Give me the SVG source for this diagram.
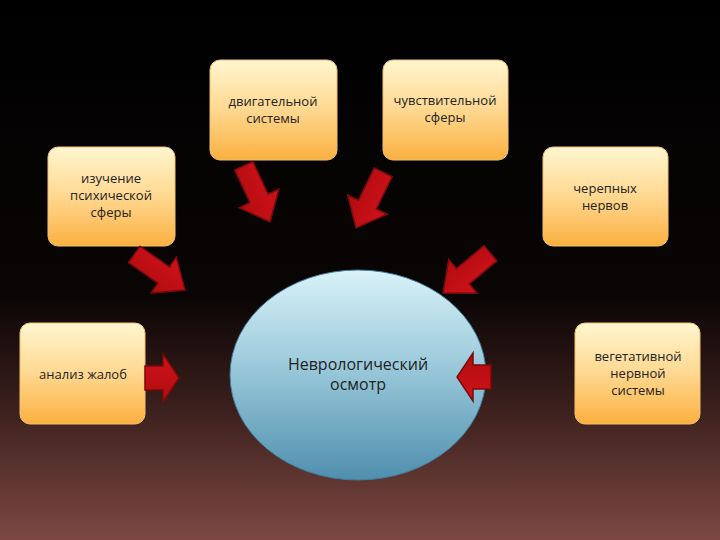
<svg xmlns="http://www.w3.org/2000/svg" width="720" height="540" viewBox="0 0 720 540">
<defs>
<linearGradient id="bg" x1="0" y1="0" x2="0" y2="1">
<stop offset="0" stop-color="#000"/><stop offset="0.55" stop-color="#0a0505"/><stop offset="0.75" stop-color="#3a1f1c"/><stop offset="1" stop-color="#7d4843"/></linearGradient>
<linearGradient id="box" x1="0" y1="0" x2="0" y2="1">
<stop offset="0" stop-color="#fff6d0"/><stop offset="0.5" stop-color="#ffd890"/><stop offset="1" stop-color="#fbb040"/></linearGradient>
<linearGradient id="ell" x1="0" y1="0" x2="0" y2="1">
<stop offset="0" stop-color="#d9f2f8"/><stop offset="0.45" stop-color="#9ccadb"/><stop offset="1" stop-color="#4f8fae"/></linearGradient>
<linearGradient id="arr" x1="0" y1="0" x2="0" y2="1">
<stop offset="0" stop-color="#d0121a"/><stop offset="1" stop-color="#b00c10"/></linearGradient>
<path id="a" d="M-62,-10 L-26,-10 L-26,-22 L0,0 L-26,22 L-26,10 L-62,10 Z" fill="url(#arr)" stroke="#7a0a0a" stroke-width="1.5"/>
<path id="s" d="M-34,-12 L-16,-12 L-16,-24 L0,0 L-16,24 L-16,12 L-34,12 Z" fill="url(#arr)" stroke="#7a0a0a" stroke-width="1.5"/>
</defs>
<style>
.b{fill:url(#box);stroke:#f3c070;stroke-width:1}
.t{font-family:"Open Sans","DejaVu Sans",sans-serif;font-size:13px;fill:#222;text-anchor:middle}
.m{font-family:"Open Sans","DejaVu Sans",sans-serif;font-size:16px;fill:#222;text-anchor:middle}
</style>
<rect width="720" height="540" fill="url(#bg)"/>
<g id="n1"><rect class="b" x="210" y="60" width="127" height="100" rx="10"/><text class="t" x="273" y="106">двигательной</text><text class="t" x="273" y="123">системы</text></g>
<g id="n2"><rect class="b" x="383" y="60" width="125" height="100" rx="10"/><text class="t" x="445" y="105" font-size="11">чувствительной</text><text class="t" x="445" y="122" font-size="11">сферы</text></g>
<g id="n3"><rect class="b" x="48" y="147" width="127" height="99" rx="10"/><text class="t" x="111" y="183">изучение</text><text class="t" x="111" y="200">психической</text><text class="t" x="111" y="217">сферы</text></g>
<g id="n4"><rect class="b" x="543" y="147" width="125" height="99" rx="10"/><text class="t" x="605" y="193">черепных</text><text class="t" x="605" y="210">нервов</text></g>
<g id="n5"><rect class="b" x="20" y="323" width="125" height="101" rx="10"/><text class="t" x="83" y="379">анализ жалоб</text></g>
<g id="n6"><rect class="b" x="575" y="323" width="125" height="101" rx="10"/><text class="t" x="638" y="361">вегетативной</text><text class="t" x="638" y="378">нервной</text><text class="t" x="638" y="395">системы</text></g>
<g id="center"><ellipse cx="358" cy="375" rx="128" ry="105" fill="url(#ell)" stroke="#3f7f9f" stroke-width="1"/><text class="m" x="358" y="370">Неврологический</text><text class="m" x="358" y="390">осмотр</text></g>
<g id="connectors">
<use href="#a" transform="translate(270,222) rotate(65)"/>
<use href="#a" transform="translate(356,228) rotate(116)"/>
<use href="#a" transform="translate(185,290) rotate(35)"/>
<use href="#a" transform="translate(443,293) rotate(140)"/>
<use href="#s" transform="translate(179,378)"/>
<use href="#s" transform="translate(457,377) rotate(180)"/>
</g>
</svg>
